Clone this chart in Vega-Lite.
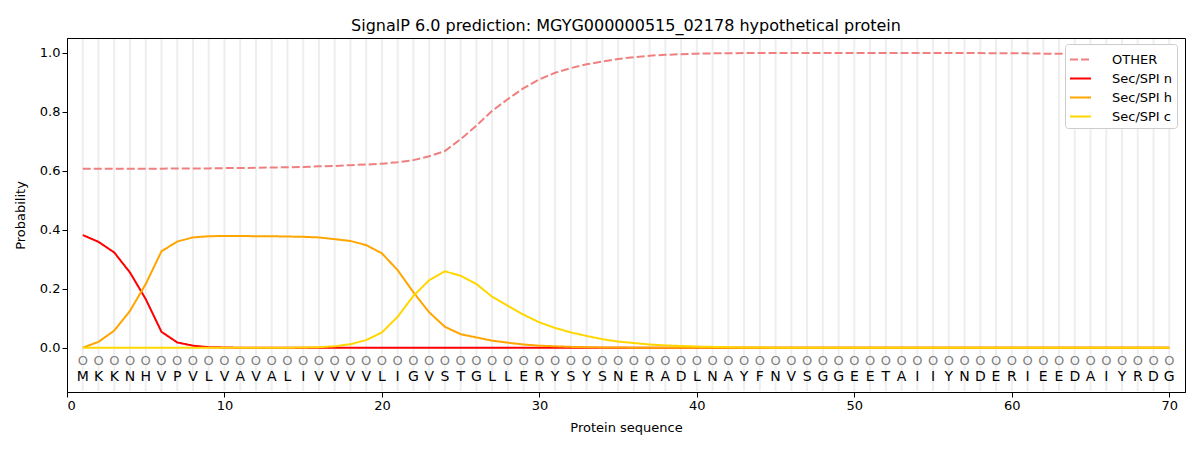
{
  "$schema": "https://vega.github.io/schema/vega-lite/v6.json",
  "width": 1118,
  "height": 354,
  "autosize": {"type": "none"},
  "padding": {"left": 67, "top": 38, "right": 15, "bottom": 58},
  "background": "white",
  "title": {"text": "SignalP 6.0 prediction: MGYG000000515_02178 hypothetical protein", "fontSize": 16, "fontWeight": "normal", "font": "DejaVu Sans", "color": "black", "offset": 4},
  "config": {
    "font": "DejaVu Sans",
    "view": {"stroke": "black", "strokeWidth": 1},
    "axis": {"labelFont": "DejaVu Sans", "labelFontSize": 13, "labelColor": "black", "titleFont": "DejaVu Sans", "titleFontSize": 13, "titleFontWeight": "normal", "titleColor": "black", "domainColor": "black", "tickColor": "black", "tickSize": 5, "grid": false}
  },
  "data": {"values": [
    {"pos": 1, "aa": "M", "other": 0.607, "n": 0.382, "h": 0.000, "c": 0.000},
    {"pos": 2, "aa": "K", "other": 0.607, "n": 0.359, "h": 0.020, "c": 0.000},
    {"pos": 3, "aa": "K", "other": 0.607, "n": 0.323, "h": 0.058, "c": 0.000},
    {"pos": 4, "aa": "N", "other": 0.607, "n": 0.255, "h": 0.125, "c": 0.000},
    {"pos": 5, "aa": "H", "other": 0.607, "n": 0.165, "h": 0.216, "c": 0.000},
    {"pos": 6, "aa": "V", "other": 0.607, "n": 0.054, "h": 0.327, "c": 0.000},
    {"pos": 7, "aa": "P", "other": 0.608, "n": 0.018, "h": 0.360, "c": 0.000},
    {"pos": 8, "aa": "V", "other": 0.608, "n": 0.007, "h": 0.374, "c": 0.000},
    {"pos": 9, "aa": "L", "other": 0.608, "n": 0.002, "h": 0.378, "c": 0.000},
    {"pos": 10, "aa": "V", "other": 0.609, "n": 0.001, "h": 0.379, "c": 0.000},
    {"pos": 11, "aa": "A", "other": 0.609, "n": 0.000, "h": 0.379, "c": 0.000},
    {"pos": 12, "aa": "V", "other": 0.610, "n": 0.000, "h": 0.378, "c": 0.000},
    {"pos": 13, "aa": "A", "other": 0.611, "n": 0.000, "h": 0.378, "c": 0.000},
    {"pos": 14, "aa": "L", "other": 0.612, "n": 0.000, "h": 0.377, "c": 0.000},
    {"pos": 15, "aa": "I", "other": 0.613, "n": 0.000, "h": 0.376, "c": 0.001},
    {"pos": 16, "aa": "V", "other": 0.615, "n": 0.000, "h": 0.374, "c": 0.002},
    {"pos": 17, "aa": "V", "other": 0.616, "n": 0.000, "h": 0.368, "c": 0.005},
    {"pos": 18, "aa": "V", "other": 0.619, "n": 0.000, "h": 0.362, "c": 0.012},
    {"pos": 19, "aa": "V", "other": 0.621, "n": 0.000, "h": 0.348, "c": 0.026},
    {"pos": 20, "aa": "L", "other": 0.624, "n": 0.000, "h": 0.320, "c": 0.052},
    {"pos": 21, "aa": "I", "other": 0.629, "n": 0.000, "h": 0.263, "c": 0.105},
    {"pos": 22, "aa": "G", "other": 0.636, "n": 0.000, "h": 0.188, "c": 0.176},
    {"pos": 23, "aa": "V", "other": 0.649, "n": 0.000, "h": 0.120, "c": 0.229},
    {"pos": 24, "aa": "S", "other": 0.667, "n": 0.000, "h": 0.071, "c": 0.259},
    {"pos": 25, "aa": "T", "other": 0.707, "n": 0.000, "h": 0.046, "c": 0.244},
    {"pos": 26, "aa": "G", "other": 0.753, "n": 0.000, "h": 0.035, "c": 0.216},
    {"pos": 27, "aa": "L", "other": 0.803, "n": 0.000, "h": 0.024, "c": 0.173},
    {"pos": 28, "aa": "L", "other": 0.843, "n": 0.000, "h": 0.017, "c": 0.142},
    {"pos": 29, "aa": "E", "other": 0.880, "n": 0.000, "h": 0.011, "c": 0.112},
    {"pos": 30, "aa": "R", "other": 0.910, "n": 0.000, "h": 0.007, "c": 0.086},
    {"pos": 31, "aa": "Y", "other": 0.932, "n": 0.000, "h": 0.005, "c": 0.067},
    {"pos": 32, "aa": "S", "other": 0.948, "n": 0.000, "h": 0.003, "c": 0.052},
    {"pos": 33, "aa": "Y", "other": 0.961, "n": 0.000, "h": 0.002, "c": 0.040},
    {"pos": 34, "aa": "S", "other": 0.970, "n": 0.000, "h": 0.001, "c": 0.029},
    {"pos": 35, "aa": "N", "other": 0.979, "n": 0.000, "h": 0.001, "c": 0.021},
    {"pos": 36, "aa": "E", "other": 0.985, "n": 0.000, "h": 0.000, "c": 0.016},
    {"pos": 37, "aa": "R", "other": 0.990, "n": 0.000, "h": 0.000, "c": 0.011},
    {"pos": 38, "aa": "A", "other": 0.993, "n": 0.000, "h": 0.000, "c": 0.008},
    {"pos": 39, "aa": "D", "other": 0.995, "n": 0.000, "h": 0.000, "c": 0.006},
    {"pos": 40, "aa": "L", "other": 0.997, "n": 0.000, "h": 0.000, "c": 0.004},
    {"pos": 41, "aa": "N", "other": 0.998, "n": 0.000, "h": 0.000, "c": 0.003},
    {"pos": 42, "aa": "A", "other": 0.998, "n": 0.000, "h": 0.000, "c": 0.002},
    {"pos": 43, "aa": "Y", "other": 0.999, "n": 0.000, "h": 0.000, "c": 0.001},
    {"pos": 44, "aa": "F", "other": 0.999, "n": 0.000, "h": 0.000, "c": 0.001},
    {"pos": 45, "aa": "N", "other": 0.999, "n": 0.000, "h": 0.000, "c": 0.000},
    {"pos": 46, "aa": "V", "other": 0.999, "n": 0.000, "h": 0.000, "c": 0.000},
    {"pos": 47, "aa": "S", "other": 0.999, "n": 0.000, "h": 0.000, "c": 0.000},
    {"pos": 48, "aa": "G", "other": 0.999, "n": 0.000, "h": 0.000, "c": 0.000},
    {"pos": 49, "aa": "G", "other": 0.999, "n": 0.000, "h": 0.000, "c": 0.000},
    {"pos": 50, "aa": "E", "other": 0.999, "n": 0.000, "h": 0.000, "c": 0.000},
    {"pos": 51, "aa": "E", "other": 0.999, "n": 0.000, "h": 0.000, "c": 0.000},
    {"pos": 52, "aa": "T", "other": 0.999, "n": 0.000, "h": 0.000, "c": 0.000},
    {"pos": 53, "aa": "A", "other": 0.999, "n": 0.000, "h": 0.000, "c": 0.000},
    {"pos": 54, "aa": "I", "other": 0.999, "n": 0.000, "h": 0.000, "c": 0.000},
    {"pos": 55, "aa": "I", "other": 0.999, "n": 0.000, "h": 0.000, "c": 0.000},
    {"pos": 56, "aa": "Y", "other": 0.999, "n": 0.000, "h": 0.000, "c": 0.000},
    {"pos": 57, "aa": "N", "other": 0.999, "n": 0.000, "h": 0.000, "c": 0.000},
    {"pos": 58, "aa": "D", "other": 0.999, "n": 0.000, "h": 0.000, "c": 0.000},
    {"pos": 59, "aa": "E", "other": 0.998, "n": 0.000, "h": 0.000, "c": 0.000},
    {"pos": 60, "aa": "R", "other": 0.998, "n": 0.000, "h": 0.000, "c": 0.000},
    {"pos": 61, "aa": "I", "other": 0.998, "n": 0.000, "h": 0.000, "c": 0.000},
    {"pos": 62, "aa": "E", "other": 0.997, "n": 0.000, "h": 0.000, "c": 0.000},
    {"pos": 63, "aa": "E", "other": 0.997, "n": 0.000, "h": 0.000, "c": 0.000},
    {"pos": 64, "aa": "D", "other": 0.996, "n": 0.000, "h": 0.000, "c": 0.000},
    {"pos": 65, "aa": "A", "other": 0.996, "n": 0.000, "h": 0.000, "c": 0.000},
    {"pos": 66, "aa": "I", "other": 0.995, "n": 0.000, "h": 0.000, "c": 0.000},
    {"pos": 67, "aa": "Y", "other": 0.995, "n": 0.000, "h": 0.000, "c": 0.000},
    {"pos": 68, "aa": "R", "other": 0.994, "n": 0.000, "h": 0.000, "c": 0.000},
    {"pos": 69, "aa": "D", "other": 0.994, "n": 0.000, "h": 0.000, "c": 0.000},
    {"pos": 70, "aa": "G", "other": 0.993, "n": 0.000, "h": 0.000, "c": 0.000}
  ]},
  "encoding": {
    "x": {"field": "pos", "type": "quantitative", "scale": {"domain": [0, 71], "nice": false, "zero": false}, "axis": {"values": [0, 10, 20, 30, 40, 50, 60, 70], "title": "Protein sequence", "titlePadding": 9}}
  },
  "layer": [
    {
      "mark": {"type": "rule", "color": "#eeeeee", "strokeWidth": 2},
      "encoding": {
        "y": {"datum": -0.1465, "type": "quantitative"},
        "y2": {"datum": 1.0465}
      }
    },
    {
      "transform": [
        {"fold": ["other", "n", "h", "c"], "as": ["key", "prob"]},
        {"lookup": "key", "from": {"data": {"values": [
          {"key": "other", "series": "OTHER"},
          {"key": "n", "series": "Sec/SPI n"},
          {"key": "h", "series": "Sec/SPI h"},
          {"key": "c", "series": "Sec/SPI c"}
        ]}, "key": "key", "fields": ["series"]}}
      ],
      "mark": {"type": "line", "strokeWidth": 2},
      "encoding": {
        "y": {"field": "prob", "type": "quantitative", "scale": {"domain": [-0.15, 1.05], "nice": false, "zero": false}, "axis": {"values": [0, 0.2, 0.4, 0.6, 0.8, 1.0], "format": ".1f", "title": "Probability", "titlePadding": 12}},
        "color": {"field": "series", "type": "nominal", "scale": {"domain": ["OTHER", "Sec/SPI n", "Sec/SPI h", "Sec/SPI c"], "range": ["#f08080", "#ff0000", "#ffa500", "#ffd700"]}, "legend": {"title": null, "orient": "none", "legendX": 998, "legendY": 6, "symbolType": "stroke", "symbolSize": 441, "symbolStrokeWidth": 2, "labelFontSize": 13, "labelFont": "DejaVu Sans", "labelColor": "black", "fillColor": "white", "strokeColor": "#cccccc", "cornerRadius": 3, "padding": 4, "rowPadding": -2, "labelOffset": 20}},
        "strokeDash": {"field": "series", "type": "nominal", "scale": {"domain": ["OTHER", "Sec/SPI n", "Sec/SPI h", "Sec/SPI c"], "range": [[8, 3], [1, 0], [1, 0], [1, 0]]}, "legend": null},
        "order": {"field": "pos", "type": "quantitative"}
      }
    },
    {
      "mark": {"type": "text", "font": "DejaVu Sans", "fontSize": 13, "color": "#808080", "baseline": "middle"},
      "encoding": {
        "y": {"datum": -0.045, "type": "quantitative"},
        "text": {"value": "O"}
      }
    },
    {
      "mark": {"type": "text", "font": "DejaVu Sans", "fontSize": 14, "color": "black", "baseline": "middle"},
      "encoding": {
        "y": {"datum": -0.1, "type": "quantitative"},
        "text": {"field": "aa", "type": "nominal"}
      }
    }
  ]
}
